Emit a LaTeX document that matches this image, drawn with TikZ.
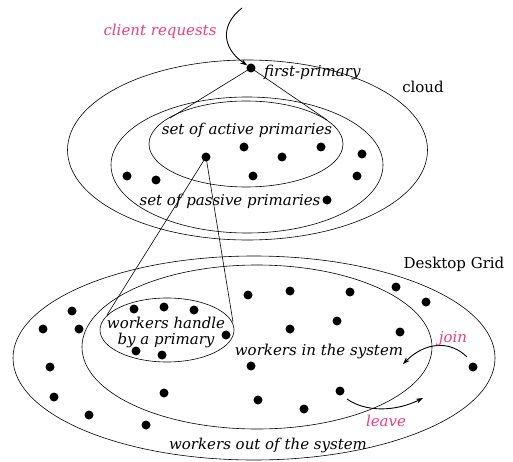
\documentclass[tikz,border=0pt]{standalone}
\usepackage{fontspec}
\setmainfont{DejaVu Serif}
\usetikzlibrary{arrows.meta}
\definecolor{pinkc}{RGB}{240,60,130}
\begin{document}
\begin{tikzpicture}[x=1pt,y=-1pt,
  dot/.style={circle,fill=black,inner sep=0pt,minimum size=9pt},
  ell/.style={draw=black,line width=0.6pt},
  lbl/.style={font=\fontsize{15}{18}\selectfont\itshape,inner sep=0pt},
  plbl/.style={lbl,text=pinkc},
  rlbl/.style={font=\fontsize{15}{18}\selectfont,inner sep=0pt},
  arr/.style={line width=0.9pt,-{Stealth[length=7pt,width=5pt]}},
  conn/.style={line width=0.6pt}]
\useasboundingbox (0,0) rectangle (513,462);
% cloud
\draw[ell] (247.5,150) ellipse [x radius=180, y radius=90];
\draw[ell] (247,165) ellipse [x radius=136, y radius=68];
\draw[ell] (246,144) ellipse [x radius=97, y radius=43];
% desktop grid
\draw[ell] (254,358) ellipse [x radius=241, y radius=102];
\draw[ell] (257,347) ellipse [x radius=175, y radius=82];
\draw[ell] (167,330) ellipse [x radius=67, y radius=32];
% cloud dots
\node[dot] (fp) at (251,68) {};
\node[dot] (ap) at (206,157) {};
\node[dot] (c1) at (244,147) {};
\node[dot] (c2) at (282,157) {};
\node[dot] (c3) at (321,147) {};
\node[dot] (c4) at (362,154) {};
\node[dot] (c5) at (127,176) {};
\node[dot] (c6) at (156,180) {};
\node[dot] (c7) at (253,176) {};
\node[dot] (c8) at (357,176) {};
\node[dot] (c9) at (327,200) {};
% worker dots
\node[dot] (w1) at (134,309) {};
\node[dot] (w2) at (164,307) {};
\node[dot] (w3) at (194,310) {};
\node[dot] (w4) at (226,335) {};
\node[dot] (w5) at (136,351) {};
\node[dot] (w6) at (162,355) {};
\node[dot] (w7) at (72,311) {};
\node[dot] (w8) at (43,329) {};
\node[dot] (w9) at (79,329) {};
\node[dot] (w10) at (50,367) {};
\node[dot] (w11) at (54,397) {};
\node[dot] (w12) at (89,415) {};
\node[dot] (w13) at (146,425) {};
\node[dot] (w14) at (164,393) {};
\node[dot] (w15) at (248,295) {};
\node[dot] (w16) at (290,291) {};
\node[dot] (w17) at (350,292) {};
\node[dot] (w18) at (396,287) {};
\node[dot] (w19) at (426,302) {};
\node[dot] (w20) at (290,329) {};
\node[dot] (w21) at (337,321) {};
\node[dot] (w22) at (400,332) {};
\node[dot] (w23) at (251,366) {};
\node[dot] (w24) at (258,400) {};
\node[dot] (w25) at (304,409) {};
\node[dot] (w26) at (340,391) {};
\node[dot] (w27) at (473,367) {};
% connector end points
\coordinate (fpl) at (170,118);
\coordinate (fpr) at (327,120);
\coordinate (apl) at (107,315);
\coordinate (apr) at (233,322);
\coordinate (cs) at (242,8);
\coordinate (js) at (467,357);
\coordinate (je) at (403,364);
\coordinate (ls) at (347,399);
\coordinate (le) at (423,398);
\draw[conn] (fp.center) -- (fpl);
\draw[conn] (fp.center) -- (fpr);
\draw[conn] (ap.center) -- (apl);
\draw[conn] (ap.center) -- (apr);
% arrows
\draw[arr] (cs) .. controls (220,25) and (222,48) .. (fp);
\draw[arr] (js) .. controls (450,340) and (425,342) .. (je);
\draw[arr] (ls) .. controls (365,412) and (395,412) .. (le);
% labels
\node[lbl,anchor=west] (tfp) at (264,72) {first-primary};
\node[rlbl] (tcloud) at (423,87) {cloud};
\node[lbl] (tact) at (247,130) {set of active primaries};
\node[lbl] (tpas) at (230,201) {set of passive primaries};
\node[plbl] (tcr) at (160,31) {client requests};
\node[rlbl] (tdg) at (454,264) {Desktop Grid};
\node[lbl,align=center,font=\fontsize{15}{16}\selectfont\itshape] (twh) at (166,332) {workers handle\\by a primary};
\node[lbl] (twin) at (319,351) {workers in the system};
\node[plbl] (tjoin) at (453,339) {join};
\node[plbl] (tleave) at (386,421) {leave};
\node[lbl] (twout) at (268,445) {workers out of the system};
\end{tikzpicture}
\end{document}
